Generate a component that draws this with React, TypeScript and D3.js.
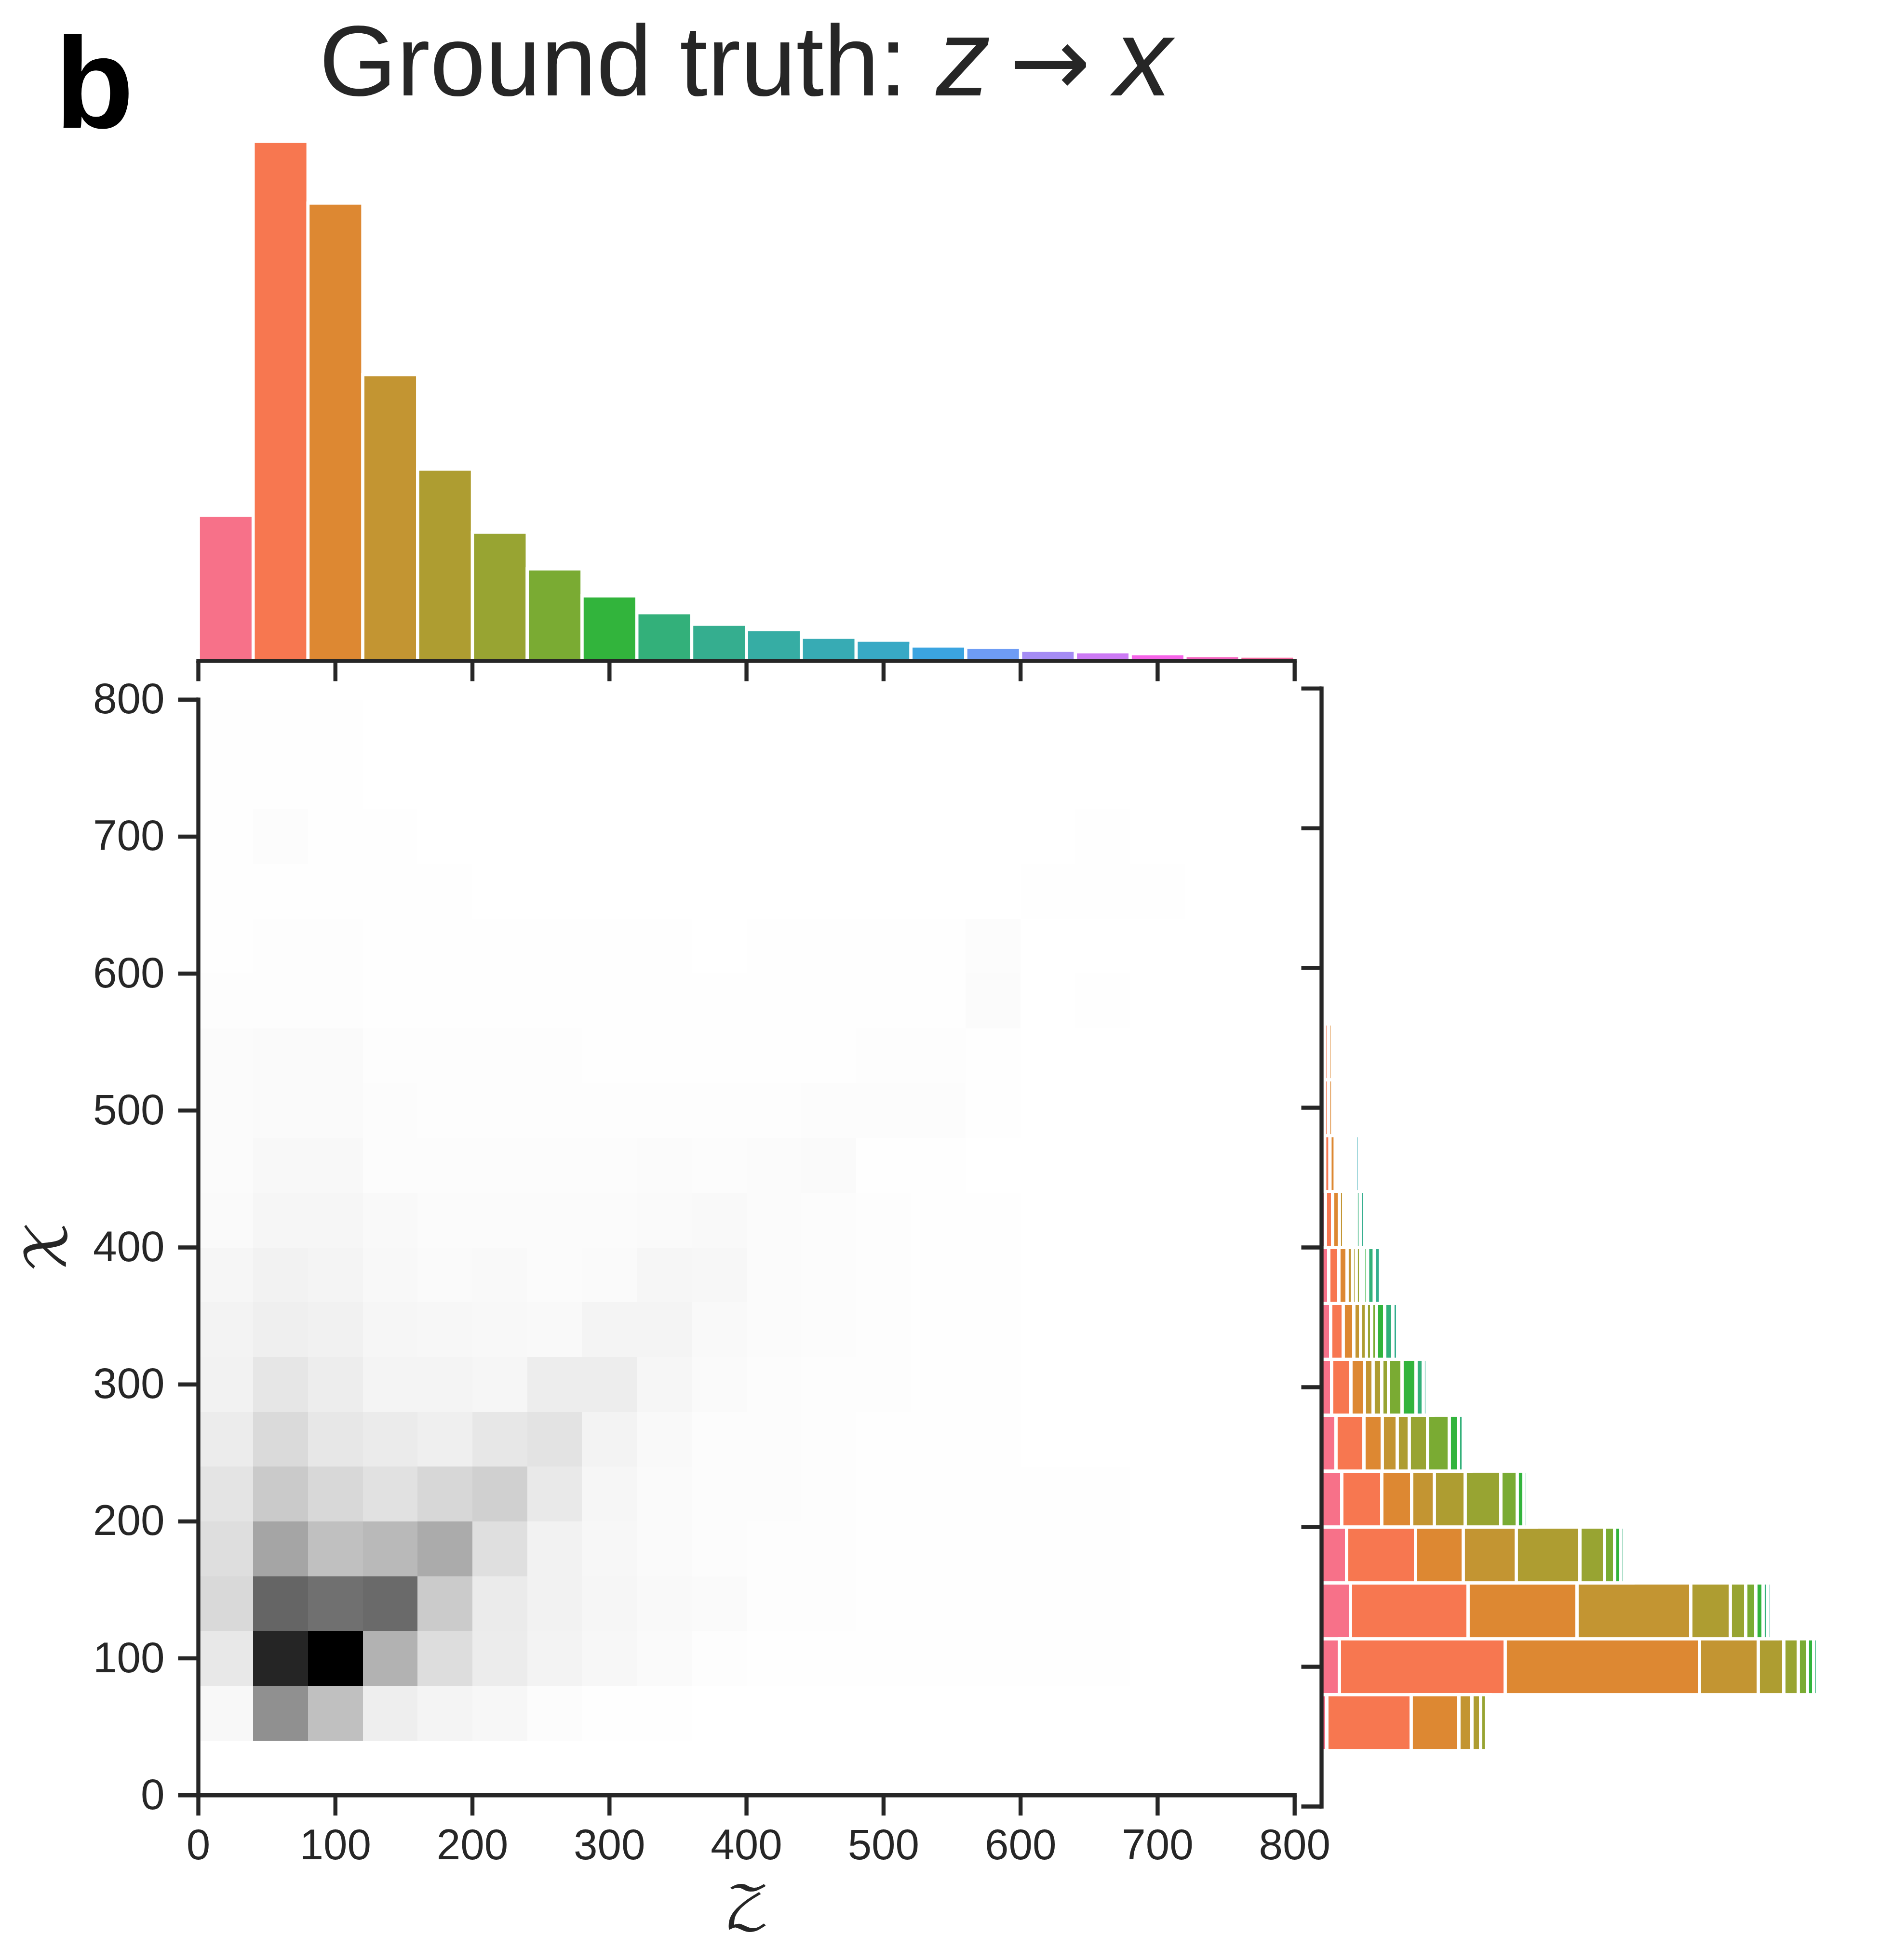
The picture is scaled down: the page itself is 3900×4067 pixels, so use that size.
import React, { useEffect, useRef } from "react";
import * as d3 from "d3";

const binSize = 40;
const axisTicks = [0, 100, 200, 300, 400, 500, 600, 700, 800];

const zColors = [
  "#f77189", "#f77750", "#dd8832", "#c39532", "#ae9d31", "#98a432", "#7aab33", "#32b43c",
  "#33b07a", "#35ae8f", "#36ada4", "#37abb4", "#38a9c5", "#3ba4e0", "#6e9cf4", "#a58cf4",
  "#cc7af4", "#f565e8", "#f565c0", "#f66ba0",
];

// height of the marginal bars on top, one per z bin
const zCounts = [
  302, 1078, 950, 594, 398, 267, 191, 135, 100, 76, 65, 49, 43, 31, 28, 22, 19, 15, 11, 10,
];

// joint counts, one row per x bin (bottom to top), one column per z bin
const jointCounts = [
  [0, 0, 0, 0, 0, 0, 0, 0, 0, 0, 0, 0, 0, 0, 0, 0, 0, 0, 0, 0],
  [11, 175, 99, 27, 18, 12, 5, 2, 1, 0, 0, 0, 0, 0, 0, 0, 0, 0, 0, 0],
  [37, 344, 403, 122, 53, 30, 19, 13, 8, 3, 2, 2, 1, 1, 1, 1, 1, 0, 0, 0],
  [60, 244, 226, 236, 82, 32, 21, 15, 10, 8, 3, 3, 2, 1, 1, 1, 1, 0, 0, 0],
  [52, 143, 99, 110, 132, 51, 21, 13, 8, 5, 3, 3, 2, 1, 1, 1, 1, 0, 0, 0],
  [42, 83, 62, 47, 64, 74, 34, 14, 8, 5, 4, 3, 2, 1, 1, 1, 1, 0, 0, 0],
  [30, 58, 38, 31, 25, 38, 45, 19, 10, 5, 4, 3, 2, 1, 1, 0, 0, 0, 0, 0],
  [21, 40, 28, 18, 18, 14, 28, 29, 15, 8, 4, 3, 3, 1, 1, 0, 0, 0, 0, 0],
  [19, 26, 22, 14, 12, 11, 10, 17, 17, 10, 6, 5, 3, 1, 1, 0, 0, 0, 0, 0],
  [15, 21, 17, 11, 8, 9, 6.5, 8, 14, 13, 6.5, 5, 3, 1, 1, 0, 0, 0, 0, 0],
  [8, 15, 14, 9, 6.5, 6.5, 6.5, 6.5, 8.4, 8.8, 6, 5, 3, 1, 1, 0, 0, 0, 0, 0],
  [6.5, 11, 11, 5, 5, 5, 5, 5, 6, 5, 6, 8, 1, 1, 0, 0, 0, 0, 0, 0],
  [6.5, 8.4, 8.4, 4, 3, 3, 3, 3, 3, 3, 3, 5, 5, 4, 1, 0, 0, 0, 0, 0],
  [6.5, 8, 8, 3, 3, 3, 3, 2, 2, 2, 2, 2, 3, 3, 1, 0, 0, 0, 0, 0],
  [3, 3, 3, 2, 2, 2, 2, 1, 1, 1, 1, 1, 1, 1, 6, 0, 1.5, 0, 0, 0],
  [2, 3, 3, 1, 1, 1, 1, 1, 1, 0, 1, 2, 1, 1, 5, 0, 0, 0, 0, 0],
  [1, 2, 2, 1, 1, 0, 0, 0, 0, 0, 0, 0, 0, 0, 0, 2, 2, 2, 0, 0],
  [1, 4, 2, 1, 0, 0, 0, 0, 0, 0, 0, 0, 0, 0, 0, 0, 2, 0, 0, 0],
  [1, 1, 1, 0, 0, 0, 0, 0, 0, 0, 0, 0, 0, 0, 0, 0, 0, 0, 0, 0],
  [2, 2, 1, 0, 0, 0, 0, 0, 0, 0, 0, 0, 0, 0, 0, 0, 0, 0, 0, 0],
];

const ink = "#262626";
const sans = "'Liberation Sans', Arial, sans-serif";

const App: React.FC = () => {
  const plotRef = useRef<SVGGElement | null>(null);

  useEffect(() => {
    const svg = d3.select(plotRef.current);
    svg.selectAll("*").remove();

    const x = d3.scaleLinear().domain([0, 800]).range([411.5, 2685.7]);
    const y = d3.scaleLinear().domain([0, 800]).range([3725.3, 1451.8]);
    const yRight = d3.scaleLinear().domain([0, 800]).range([3748.5, 1428.6]);
    const topY = d3.scaleLinear().domain([0, 1078]).range([1371.4, 293.4]);
    const rightX = d3.scaleLinear().domain([0, 1000]).range([2741.5, 3741.5]);
    const shade = d3.scaleLinear<string>().domain([0, 403]).range(["#ffffff", "#000000"]);

    // heatmap
    svg
      .append("g")
      .selectAll("g")
      .data(jointCounts)
      .join("g")
      .each(function (row, r) {
        d3.select(this)
          .selectAll("rect")
          .data(row)
          .join("rect")
          .attr("x", (_, c) => x(c * binSize))
          .attr("y", y((r + 1) * binSize))
          .attr("width", x(binSize) - x(0))
          .attr("height", y(0) - y(binSize))
          .attr("fill", (d) => shade(d))
          .attr("shape-rendering", "crispEdges");
      });

    // top marginal
    svg
      .append("g")
      .selectAll("rect")
      .data(zCounts)
      .join("rect")
      .attr("x", (_, i) => x(i * binSize))
      .attr("y", (d) => topY(d))
      .attr("width", x(binSize) - x(0))
      .attr("height", (d) => topY(0) - topY(d))
      .attr("fill", (_, i) => zColors[i])
      .attr("stroke", "#fff")
      .attr("stroke-width", 6.6);

    // right marginal, stacked by z bin
    const stacked = d3.stack<number[], number>()
      .keys(d3.range(zColors.length))
      .value((row, key) => row[key])(jointCounts);

    svg
      .append("g")
      .selectAll("g")
      .data(stacked)
      .join("g")
      .attr("fill", (_, i) => zColors[i])
      .selectAll("rect")
      .data((s) => s.map((d, r) => ({ x0: d[0], x1: d[1], r })).filter((d) => d.x1 > d.x0))
      .join("rect")
      .attr("x", (d) => rightX(d.x0))
      .attr("y", (d) => yRight((d.r + 1) * binSize))
      .attr("width", (d) => rightX(d.x1) - rightX(d.x0))
      .attr("height", yRight(0) - yRight(binSize))
      .attr("stroke", "#fff")
      .attr("stroke-width", 6.8);

    const styleAxis = (g: any) => {
      g.selectAll(".domain").attr("stroke", ink).attr("stroke-width", 8.4).attr("stroke-linecap", "square");
      g.selectAll(".tick line").attr("stroke", ink).attr("stroke-width", 8.4);
      g.selectAll("text").attr("fill", ink).attr("font-family", sans).attr("font-size", 89);
    };

    // main axes
    svg
      .append("g")
      .attr("transform", `translate(0,${y(0)})`)
      .call(d3.axisBottom(x).tickValues(axisTicks).tickSize(42).tickSizeOuter(0).tickPadding(28).offset(0))
      .call(styleAxis);
    svg
      .append("g")
      .attr("transform", `translate(${x(0)},0)`)
      .call(d3.axisLeft(y).tickValues(axisTicks).tickSize(42).tickSizeOuter(0).tickPadding(28).offset(0))
      .call(styleAxis);

    // axis under the top marginal, no labels
    svg
      .append("g")
      .attr("transform", `translate(0,${topY(0)})`)
      .call(d3.axisBottom(x).tickValues(axisTicks).tickSize(42).tickSizeOuter(0).tickFormat(() => "").offset(0))
      .call(styleAxis);

    // axis left of the right marginal, no labels
    svg
      .append("g")
      .attr("transform", `translate(${rightX(0)},0)`)
      .call(d3.axisLeft(yRight).tickValues(axisTicks).tickSize(42).tickSizeOuter(0).tickFormat(() => "").offset(0))
      .call(styleAxis);
  }, []);

  const mathFont = "'DejaVu Math TeX Gyre', 'DejaVu Serif', 'DejaVu Sans', serif";

  return (
    <svg width={3900} height={4067} style={{ position: "absolute", left: 0, top: 0, background: "#fff" }}>
      <g ref={plotRef} />
      <text x={114} y={265} fontFamily={sans} fontWeight={700} fontSize={268} fill="#000">b</text>
      <text x={662} y={198} fontFamily={sans} fontSize={207} fill={ink}>Ground truth:</text>
      <text x={1942} y={198} fontFamily={sans} fontStyle="italic" fontSize={226} fill={ink}>z</text>
      <text x={2094} y={198} fontFamily="'DejaVu Sans'" fontSize={201} fill={ink}>→</text>
      <text
        transform="translate(2312,198) scale(1.05,1)"
        fontFamily={sans}
        fontStyle="italic"
        fontSize={226}
        fill={ink}
      >
        x
      </text>
      <text x={1550} y={4000} textAnchor="middle" fontFamily={mathFont} fontSize={120} fill={ink}>𝒵</text>
      <text
        transform="translate(136,2587) rotate(-90)"
        textAnchor="middle"
        fontFamily={mathFont}
        fontSize={114}
        fill={ink}
      >
        𝒳
      </text>
    </svg>
  );
};

export default App;
